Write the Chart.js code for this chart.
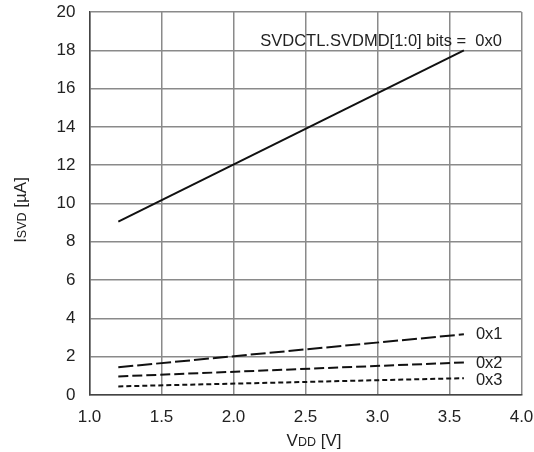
<!DOCTYPE html>
<html>
<head>
<meta charset="utf-8">
<script src="https://cdn.jsdelivr.net/npm/chart.js"></script>
<style>
  body { margin: 0; background: #fff; }
  #wrap { width: 534px; height: 452px; }
</style>
</head>
<body>
<div id="wrap"><canvas id="svdChart"></canvas></div>
<script>
// supply voltage (V) at each end of the curves
const vdd = [1.2, 3.6]
// ISVD in uA for each SVDMD setting
const mode0 = [9.05, 18.0]
const mode1 = [1.45, 3.17]
const mode2 = [0.97, 1.7]
const mode3 = [0.45, 0.88]
const seriesNames = ['0x0', '0x1', '0x2', '0x3']
const xTicks = [1.0, 1.5, 2.0, 2.5, 3.0, 3.5, 4.0]
const yTicks = [0, 2, 4, 6, 8, 10, 12, 14, 16, 18, 20]

const font = '"Liberation Sans", Arial, sans-serif'

function pts(ys) {
  return vdd.map((x, i) => ({ x: x, y: ys[i] }))
}

// text with a smaller middle part (I<small>SVD</small> style)
function mixedText(ctx, parts, cx, y) {
  let total = 0
  parts.forEach(p => { ctx.font = p[1] + 'px ' + font; total += ctx.measureText(p[0]).width })
  let x = cx - total / 2
  parts.forEach(p => {
    ctx.font = p[1] + 'px ' + font
    ctx.fillText(p[0], x, y)
    x += ctx.measureText(p[0]).width
  })
}

// draws axis titles and curve labels
const labelPlugin = {
  id: 'labels',
  afterDraw(chart) {
    const ctx = chart.ctx
    const xs = chart.scales.x, ys = chart.scales.y
    ctx.save()
    ctx.fillStyle = '#222'
    ctx.textBaseline = 'alphabetic'
    mixedText(ctx, [['V', 17], ['DD', 12.5], [' [V]', 17]], 314, 446)

    ctx.translate(26, 210)
    ctx.rotate(-Math.PI / 2)
    mixedText(ctx, [['I', 17], ['SVD', 12.5], [' [\u00b5A]', 17]], 0, 0)
    ctx.restore()

    ctx.save()
    ctx.fillStyle = '#222'
    ctx.font = '16.5px ' + font
    ctx.textBaseline = 'middle'
    ctx.textAlign = 'right'
    const top = chart.data.datasets[0].data[1]
    ctx.fillText('SVDCTL.SVDMD[1:0] bits =  ' + seriesNames[0], xs.getPixelForValue(top.x) + 38, ys.getPixelForValue(top.y) - 9)
    ctx.textAlign = 'left'
    const offs = [0, 0, 1, 2]
    for (let i = 1; i < 4; i++) {
      const p = chart.data.datasets[i].data[1]
      ctx.fillText(seriesNames[i], xs.getPixelForValue(p.x) + 12, ys.getPixelForValue(p.y) + offs[i])
    }
    ctx.restore()
  }
}

let ctx = document.getElementById('svdChart').getContext('2d')
let myChart = new Chart(ctx, {
  type: 'scatter',
  data: {
    datasets: [
      { label: seriesNames[0], data: pts(mode0), borderDash: [] },
      { label: seriesNames[1], data: pts(mode1), borderDash: [15, 4] },
      { label: seriesNames[2], data: pts(mode2), borderDash: [10, 4] },
      { label: seriesNames[3], data: pts(mode3), borderDash: [5, 3] }
    ].map(d => Object.assign(d, {
      showLine: true,
      borderColor: '#111',
      borderWidth: 2,
      pointRadius: 0,
      fill: false
    }))
  },
  options: {
    responsive: true,
    maintainAspectRatio: false,
    animation: false,
    layout: { padding: { top: 12, right: 12.5, left: 0, bottom: 0 } },
    plugins: { legend: { display: false }, tooltip: { enabled: false } },
    scales: {
      x: {
        type: 'linear',
        min: 1.0,
        max: 4.0,
        afterBuildTicks: s => { s.ticks = xTicks.map(v => ({ value: v })) },
        afterFit: s => { s.height = 57; s.paddingLeft = 0; s.paddingRight = 0 },
        ticks: {
          color: '#222',
          font: { family: font, size: 17 },
          padding: 12,
          maxRotation: 0,
          callback: v => v.toFixed(1)
        },
        grid: { color: '#8a8a8a', lineWidth: 1.5, drawTicks: false },
        border: { color: '#444', width: 1.5 }
      },
      y: {
        min: 0,
        max: 20,
        afterBuildTicks: s => { s.ticks = yTicks.map(v => ({ value: v })) },
        afterFit: s => { s.width = 89.5; s.paddingTop = 0; s.paddingBottom = 0 },
        ticks: {
          color: '#222',
          font: { family: font, size: 17 },
          padding: 14
        },
        grid: { color: '#8a8a8a', lineWidth: 1.5, drawTicks: false },
        border: { color: '#444', width: 1.5 }
      }
    }
  },
  plugins: [labelPlugin]
})
</script>
</body>
</html>
